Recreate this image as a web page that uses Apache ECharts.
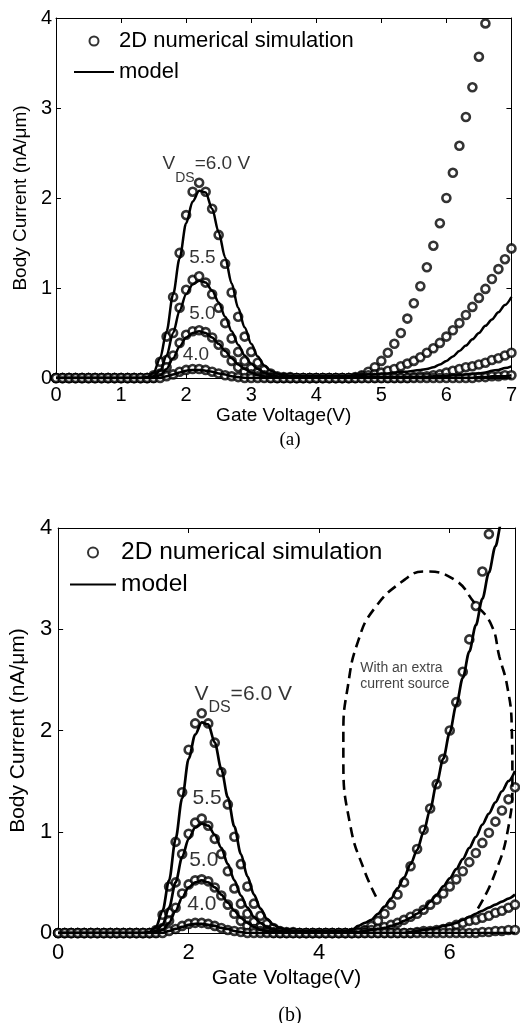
<!DOCTYPE html>
<html><head><meta charset="utf-8">
<script src="https://cdn.jsdelivr.net/npm/echarts@6/dist/echarts.min.js"></script>
<style>html,body{margin:0;padding:0;background:#fff}#c{width:520px;height:1023px}</style>
</head><body><div id="c"></div><script>
// ---------- DATA ----------
const gateVoltage = [
 0.0,0.1,0.2,0.3,0.4,0.5,0.6,0.7,0.8,0.9,
 1.0,1.1,1.2,1.3,1.4,1.5,1.6,1.7,1.8,1.9,
 2.0,2.1,2.2,2.3,2.4,2.5,2.6,2.7,2.8,2.9,
 3.0,3.1,3.2,3.3,3.4,3.5,3.6,3.7,3.8,3.9,
 4.0,4.1,4.2,4.3,4.4,4.5,4.6,4.7,4.8,4.9,
 5.0,5.1,5.2,5.3,5.4,5.5,5.6,5.7,5.8,5.9,
 6.0,6.1,6.2,6.3,6.4,6.5,6.6,6.7,6.8,6.9,
 7.0];
// 2D numerical simulation (circles), nA/um
const sim60 = [
 0,0,0,0,0,0,0,0,0,0,
 0,0,0,0,0,0.03,0.18,0.46,0.90,1.39,
 1.81,2.07,2.17,2.07,1.88,1.59,1.27,0.95,0.68,0.46,
 0.29,0.17,0.09,0.05,0.02,0.01,0.01,0,0,0,
 0,0,0,0,0,0,0.01,0.03,0.07,0.12,
 0.19,0.28,0.38,0.50,0.66,0.83,1.02,1.23,1.47,1.72,
 2.00,2.28,2.58,2.90,3.23,3.57,3.94,4.32,4.72,5.13,
 5.56];
const sim55 = [
 0,0,0,0,0,0,0,0,0,0,
 0,0,0,0,0,0,0.05,0.20,0.50,0.78,
 0.98,1.09,1.13,1.06,0.93,0.78,0.61,0.44,0.29,0.19,
 0.11,0.06,0.03,0.01,0,0,0,0,0,0,
 0,0,0,0,0,0,0,0.02,0.03,0.04,
 0.06,0.08,0.10,0.13,0.16,0.19,0.23,0.28,0.33,0.39,
 0.46,0.53,0.61,0.70,0.79,0.89,0.99,1.10,1.21,1.32,
 1.44];
const sim50 = [
 0,0,0,0,0,0,0,0,0,0,
 0,0,0,0,0,0.01,0.04,0.12,0.25,0.39,
 0.48,0.52,0.53,0.51,0.45,0.37,0.28,0.19,0.12,0.07,
 0.04,0.02,0.01,0,0,0,0,0,0,0,
 0,0,0,0,0,0,0,0,0,0,
 0,0,0,0,0,0.01,0.02,0.02,0.03,0.04,
 0.06,0.08,0.10,0.12,0.13,0.15,0.17,0.20,0.22,0.25,
 0.28];
const sim40 = [
 0,0,0,0,0,0,0,0,0,0,
 0,0,0,0,0,0,0,0.02,0.04,0.07,
 0.09,0.10,0.10,0.09,0.07,0.05,0.03,0.02,0.01,0,
 0,0,0,0,0,0,0,0,0,0,
 0,0,0,0,0,0,0,0,0,0,
 0,0,0,0,0,0,0,0,0,0,
 0,0,0,0,0,0.01,0.01,0.02,0.02,0.03,
 0.03];
// model curves, panel (a)
const modelA60 = [
 0,0,0,0,0,0,0,0,0,0,
 0,0,0,0,0.01,0.06,0.22,0.52,0.93,1.33,
 1.72,1.96,2.08,2.06,1.88,1.62,1.34,1.05,0.78,0.56,
 0.38,0.24,0.14,0.08,0.05,0.03,0.02,0.02,0.02,0.02,
 0.02,0.02,0.02,0.02,0.02,0.02,0.03,0.03,0.04,0.04,
 0.05,0.05,0.06,0.07,0.07,0.08,0.09,0.10,0.12,0.15,
 0.19,0.24,0.30,0.36,0.43,0.50,0.58,0.65,0.73,0.81,
 0.90];
const modelA55 = [
 0,0,0,0,0,0,0,0,0,0,
 0,0,0,0,0,0.02,0.08,0.25,0.50,0.75,
 0.93,1.04,1.08,1.06,0.97,0.84,0.68,0.52,0.37,0.25,
 0.16,0.10,0.06,0.03,0.02,0.01,0.01,0.01,0.01,0.01,
 0.01,0.01,0.01,0.01,0.01,0.01,0.01,0.01,0.01,0.01,
 0.01,0.01,0.01,0.01,0.01,0.01,0.01,0.01,0.02,0.02,
 0.02,0.03,0.03,0.04,0.05,0.05,0.06,0.08,0.09,0.11,
 0.13];
const modelA50 = [
 0,0,0,0,0,0,0,0,0,0,
 0,0,0,0,0,0,0.03,0.10,0.22,0.35,
 0.45,0.50,0.52,0.50,0.45,0.38,0.30,0.22,0.15,0.10,
 0.06,0.03,0.02,0.01,0,0,0,0,0,0,
 0,0,0,0,0,0,0,0,0,0,
 0,0,0,0,0,0,0,0,0,0,
 0,0,0,0,0,0.01,0.01,0.02,0.02,0.02,
 0.03];
const model40 = [
 0,0,0,0,0,0,0,0,0,0,
 0,0,0,0,0,0,0,0.02,0.04,0.06,
 0.08,0.09,0.09,0.08,0.07,0.05,0.04,0.02,0.01,0,
 0,0,0,0,0,0,0,0,0,0,
 0,0,0,0,0,0,0,0,0,0,
 0,0,0,0,0,0,0,0,0,0,
 0,0,0,0,0,0,0,0,0,0,
 0];
// model curves, panel (b) (with an extra current source)
const modelB60 = [
 0,0,0,0,0,0,0,0,0,0,
 0,0,0,0,0.01,0.06,0.22,0.52,0.93,1.33,
 1.72,1.96,2.08,2.06,1.88,1.62,1.34,1.05,0.78,0.56,
 0.38,0.24,0.14,0.08,0.05,0.03,0.02,0.02,0.02,0.02,
 0.02,0.02,0.02,0.02,0.02,0.03,0.07,0.10,0.13,0.19,
 0.26,0.34,0.44,0.55,0.68,0.82,1.00,1.22,1.48,1.72,
 1.98,2.25,2.52,2.78,3.04,3.30,3.56,3.82,4.08,4.34,
 4.60];
const modelB55 = [
 0,0,0,0,0,0,0,0,0,0,
 0,0,0,0,0,0.02,0.08,0.25,0.50,0.75,
 0.93,1.04,1.08,1.06,0.97,0.84,0.68,0.52,0.37,0.25,
 0.16,0.10,0.06,0.03,0.02,0.01,0.01,0.01,0.01,0.01,
 0.01,0.01,0.01,0.01,0.01,0.01,0.01,0.02,0.03,0.04,
 0.05,0.07,0.09,0.12,0.15,0.19,0.24,0.31,0.38,0.46,
 0.54,0.63,0.73,0.84,0.95,1.07,1.18,1.29,1.40,1.50,
 1.60];
const modelB50 = [
 0,0,0,0,0,0,0,0,0,0,
 0,0,0,0,0,0,0.03,0.10,0.22,0.35,
 0.45,0.50,0.52,0.50,0.45,0.38,0.30,0.22,0.15,0.10,
 0.06,0.03,0.02,0.01,0,0,0,0,0,0,
 0,0,0,0,0,0,0,0,0,0,
 0,0,0,0,0.01,0.02,0.03,0.04,0.05,0.07,
 0.08,0.10,0.13,0.16,0.19,0.22,0.25,0.28,0.31,0.34,
 0.38];
// dashed outline (Vg, current) in panel (b)
const ellipseB = [
 [4.87,0.36],[4.69,0.62],[4.48,1.05],[4.37,1.71],[4.37,1.98],[4.44,2.44],
 [4.59,2.87],[4.84,3.20],[5.31,3.49],[5.61,3.57],[6.07,3.49],[6.38,3.26],
 [6.64,3.04],[6.76,2.73],[6.88,2.44],[6.95,2.04],[6.96,1.49],[6.90,1.05],
 [6.67,0.55],[6.42,0.23]];
const yTicks = [0,1,2,3,4];
const legendNames = ['2D numerical simulation', 'model'];
const labelsA = [
 {x:1.63, y:2.38, text:'{v|V}{s|DS}{v|=6.0 V}'},
 {x:2.04, y:1.34, text:'{v|5.5}'},
 {x:2.04, y:0.71, text:'{v|5.0}'},
 {x:1.94, y:0.26, text:'{v|4.0}'}];
const labelsB = [
 {x:2.08, y:2.36, text:'{v|V}{s|DS}{v|=6.0 V}'},
 {x:2.05, y:1.33, text:'{v|5.5}'},
 {x:2.00, y:0.72, text:'{v|5.0}'},
 {x:1.97, y:0.28, text:'{v|4.0}'},
 {x:4.62, y:2.54, text:'{n|With an extra}\n{n|current source}'}];

// ---------- CHART ----------
const FONT = '"Liberation Sans", Arial, Helvetica, sans-serif';
const pts = (ys) => gateVoltage.map((x, i) => [x, ys[i]]);
const chart = echarts.init(document.getElementById('c'), null, {renderer: 'canvas'});

function simSeries(ys, ax) {
  return {type: 'scatter', name: legendNames[0], xAxisIndex: ax.x, yAxisIndex: ax.y,
    data: pts(ys), symbol: 'circle', symbolSize: 8, clip: true, silent: true, z: 2,
    itemStyle: {color: '#fff', borderColor: '#000', borderWidth: 2.6}};
}
function modelSeries(ys, ax, w) {
  return {type: 'line', name: legendNames[1], xAxisIndex: ax.x, yAxisIndex: ax.y,
    data: pts(ys), symbol: 'none', smooth: 0.3, smoothMonotone: 'x', clip: true, silent: true, z: 3,
    lineStyle: {color: '#000', width: w}, itemStyle: {color: '#000'}};
}
function labelSeries(list, ax, fv, fs) {
  return {type: 'scatter', name: 'annot', xAxisIndex: ax.x, yAxisIndex: ax.y, symbolSize: 1, silent: true, z: 5,
    itemStyle: {color: 'rgba(0,0,0,0)'},
    data: list.map(l => ({value: [l.x, l.y], label: {formatter: l.text}})),
    label: {show: true, position: 'right', distance: 0, color: '#000', fontFamily: FONT,
      rich: {
        v: {fontSize: fv, fontFamily: FONT, color: '#000'},
        s: {fontSize: fs, fontFamily: FONT, color: '#000', padding: [28, 0, 0, 0]},
        n: {fontSize: 14, lineHeight: 16, fontFamily: FONT, color: '#111'}
      }}};
}
const axLine = {onZero: false, lineStyle: {color: '#000', width: 1}};
const axTick = {inside: true, length: 5, lineStyle: {color: '#000', width: 1}};
function xAxisDef(grid, pos, interval, fs, withName, nameFs, gap, margin) {
  return {gridIndex: grid, type: 'value', min: 0, max: 7, interval: interval, position: pos,
    axisLine: axLine, axisTick: axTick, splitLine: {show: false},
    axisLabel: {show: withName, fontSize: fs, color: '#000', margin: margin, fontFamily: FONT, showMaxLabel: interval === 1},
    name: withName ? 'Gate Voltage(V)' : '', nameLocation: 'middle', nameGap: gap,
    nameTextStyle: {fontSize: nameFs, color: '#000', fontFamily: FONT}};
}
function yAxisDef(grid, pos, fs, withName, nameFs, gap, margin) {
  return {gridIndex: grid, type: 'value', min: yTicks[0], max: yTicks[yTicks.length - 1], interval: 1, position: pos,
    axisLine: axLine, axisTick: axTick, splitLine: {show: false},
    axisLabel: {show: withName, fontSize: fs, color: '#000', margin: margin, fontFamily: FONT},
    name: withName ? 'Body Current (nA/\u03bcm)' : '', nameLocation: 'middle', nameGap: gap, nameRotate: 90,
    nameTextStyle: {fontSize: nameFs, color: '#000', fontFamily: FONT}};
}
function legendDef(left, top, w, h, gap, fs) {
  return {data: [legendNames[0], {name: legendNames[1], itemStyle: {color: 'rgba(0,0,0,0)', borderWidth: 0}}],
    orient: 'vertical', left: left, top: top, padding: 0,
    itemWidth: w, itemHeight: h, itemGap: gap, selectedMode: false,
    textStyle: {fontSize: fs, lineHeight: fs, color: '#000', fontFamily: FONT}};
}
const A = {x: 0, y: 0}, B = {x: 2, y: 2};
const option = {
  animation: false,
  backgroundColor: '#fff',
  grid: [
    {left: 56, top: 18, width: 459, height: 360},
    {left: 56, top: 528, width: 459, height: 405}
  ],
  xAxis: [
    xAxisDef(0, 'bottom', 1, 20, true, 19, 25, 7),
    xAxisDef(0, 'top', 1, 20, false, 19, 25, 7),
    xAxisDef(1, 'bottom', 2, 22, true, 21, 35, 9),
    xAxisDef(1, 'top', 2, 22, false, 21, 35, 9)
  ],
  yAxis: [
    yAxisDef(0, 'left', 20, true, 19, 26, 4),
    yAxisDef(0, 'right', 20, false, 19, 26, 4),
    yAxisDef(1, 'left', 22, true, 21, 29, 6),
    yAxisDef(1, 'right', 22, false, 21, 29, 6)
  ],
  legend: [
    legendDef(73, 30, 40, 9, 9, 22),
    legendDef(69, 540, 46, 10, 7, 24.5)
  ],
  title: [
    {text: '(a)', left: 285, top: 426, textAlign: 'center',
     textStyle: {fontFamily: '"Liberation Serif", "DejaVu Serif", serif', fontSize: 19, fontWeight: 'normal', color: '#000'}},
    {text: '(b)', left: 285, top: 1001, textAlign: 'center',
     textStyle: {fontFamily: '"Liberation Serif", "DejaVu Serif", serif', fontSize: 20, fontWeight: 'normal', color: '#000'}}
  ],
  series: [
    simSeries(sim60, A), simSeries(sim55, A), simSeries(sim50, A), simSeries(sim40, A),
    modelSeries(modelA60, A, 2.5), modelSeries(modelA55, A, 2.5), modelSeries(modelA50, A, 2.5), modelSeries(model40, A, 2.5),
    simSeries(sim60, B), simSeries(sim55, B), simSeries(sim50, B), simSeries(sim40, B),
    modelSeries(modelB60, B, 2.7), modelSeries(modelB55, B, 2.7), modelSeries(modelB50, B, 2.7), modelSeries(model40, B, 2.7),
    {type: 'line', name: 'extra source', xAxisIndex: 2, yAxisIndex: 2, data: ellipseB, symbol: 'none',
     smooth: 0.5, silent: true, z: 4, lineStyle: {color: '#000', width: 2.6, type: [10, 6]}},
    labelSeries(labelsA, A, 19, 14),
    labelSeries(labelsB, B, 21, 16)
  ]
};
chart.setOption(option);
</script></body></html>
